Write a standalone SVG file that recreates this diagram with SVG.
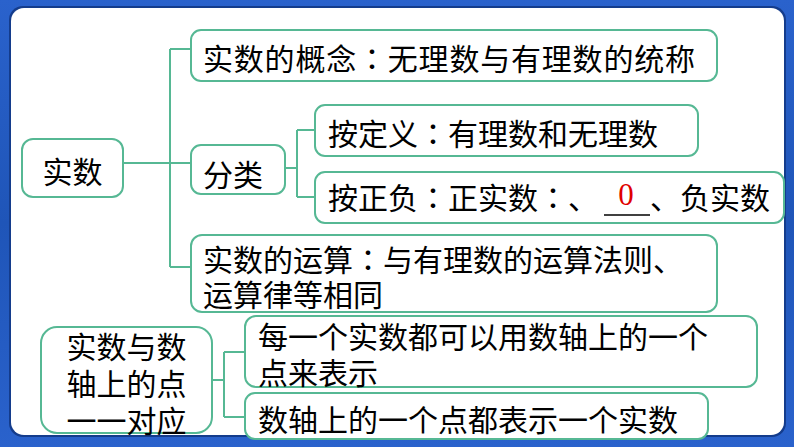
<svg xmlns="http://www.w3.org/2000/svg" width="794" height="447" viewBox="0 0 794 447">
<defs>
<linearGradient id="bg" x1="0" y1="0" x2="0" y2="1">
<stop offset="0" stop-color="#2a62cc"/>
<stop offset="0.5" stop-color="#1f55b8"/>
<stop offset="1" stop-color="#2a62cc"/>
</linearGradient>
<style>
.box{fill:#ffffff;stroke:#56b894;stroke-width:2}
.con{fill:none;stroke:#56b894;stroke-width:2}
.t{font-family:"Noto Sans CJK SC","Noto Sans CJK JP",sans-serif;font-size:30px;fill:#000000;dominant-baseline:central}
.c{font-family:"Noto Sans CJK JP","Noto Sans CJK SC",sans-serif}
.red{font-family:"Liberation Serif",serif;font-size:31px;fill:#e00000;dominant-baseline:central;text-anchor:middle}
</style>
</defs>
<rect x="0" y="0" width="794" height="447" fill="url(#bg)"/>
<rect x="9" y="6" width="777" height="431" rx="14" fill="#143c8c"/>
<rect x="11" y="8" width="773" height="427" rx="13" fill="#ffffff"/>

<g id="connectors">
<path class="con" d="M123,163 H191"/>
<path class="con" d="M170,49 V267"/>
<path class="con" d="M170,49 H191"/>
<path class="con" d="M170,267 H191"/>
<path class="con" d="M285,168 H297"/>
<path class="con" d="M297,130 V197"/>
<path class="con" d="M297,130 H315"/>
<path class="con" d="M297,197 H315"/>
<path class="con" d="M212,380 H224"/>
<path class="con" d="M224,352 V417"/>
<path class="con" d="M224,352 H245"/>
<path class="con" d="M224,417 H245"/>
</g>

<g id="n-shishu">
<rect class="box" x="22" y="139" width="101" height="58" rx="11"/>
<text class="t" x="72.5" y="170" text-anchor="middle">实数</text>
</g>

<g id="n-gainian">
<rect class="box" x="191" y="30" width="526" height="51" rx="10"/>
<text class="t" x="203" y="57" textLength="492" lengthAdjust="spacing">实数的概念<tspan class="c">：</tspan>无理数与有理数的统称</text>
</g>

<g id="n-fenlei">
<rect class="box" x="191" y="145" width="94" height="49" rx="10"/>
<text class="t" x="203" y="173">分类</text>
</g>

<g id="n-dingyi">
<rect class="box" x="315" y="105" width="383" height="51" rx="10"/>
<text class="t" x="328" y="132">按定义<tspan class="c">：</tspan>有理数和无理数</text>
</g>

<g id="n-zhengfu">
<rect class="box" x="315" y="172" width="469" height="51" rx="10"/>
<text class="t" x="328" y="196">按正负<tspan class="c">：</tspan>正实数<tspan class="c">：</tspan>、</text>
<text class="red" x="626" y="194">0</text>
<line x1="604" y1="215" x2="650" y2="215" stroke="#000000" stroke-width="1.5"/>
<text class="t" x="650" y="196">、负实数</text>
</g>

<g id="n-yunsuan">
<rect class="box" x="191" y="235" width="526" height="77" rx="11"/>
<text class="t" x="203" y="258">实数的运算<tspan class="c">：</tspan>与有理数的运算法则、</text>
<text class="t" x="203" y="293">运算律等相同</text>
</g>

<g id="n-duiying">
<rect class="box" x="41" y="327" width="171" height="106" rx="16"/>
<text class="t" x="126.5" y="345" text-anchor="middle">实数与数</text>
<text class="t" x="126.5" y="382" text-anchor="middle">轴上的点</text>
<text class="t" x="126.5" y="419" text-anchor="middle">一一对应</text>
</g>

<g id="n-meiyige">
<rect class="box" x="245" y="316" width="512" height="71" rx="11"/>
<text class="t" x="258" y="335">每一个实数都可以用数轴上的一个</text>
<text class="t" x="258" y="371">点来表示</text>
</g>

<g id="n-shuzhou">
<rect class="box" x="245" y="393" width="463" height="46" rx="10"/>
<text class="t" x="258" y="418">数轴上的一个点都表示一个实数</text>
</g>
</svg>
